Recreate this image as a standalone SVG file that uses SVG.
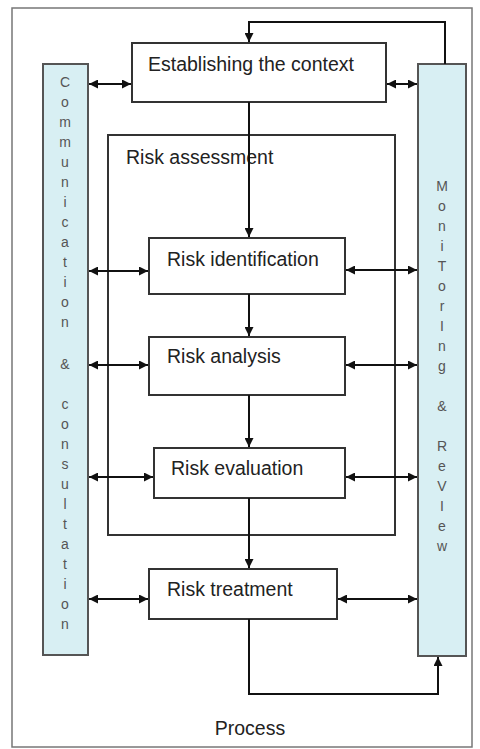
<svg xmlns="http://www.w3.org/2000/svg" width="480" height="749" viewBox="0 0 480 749">
<defs>
<marker id="ah" viewBox="0 0 10 10" refX="10" refY="5" markerWidth="11" markerHeight="9" markerUnits="userSpaceOnUse" orient="auto-start-reverse">
<path d="M0,0 L10,5 L0,10 Z" fill="#111"/>
</marker>
</defs>
<style>
.box{fill:#fff;stroke:#333;stroke-width:2}
.col{fill:#d8eff3;stroke:#555;stroke-width:2}
.lbl{font-family:"Liberation Sans",Arial,sans-serif;font-size:19.5px;fill:#222}
.ch{font-family:"Liberation Sans",Arial,sans-serif;font-size:14px;fill:#555;text-anchor:middle}
.c{fill:none;stroke:#111;stroke-width:2}
.d{fill:none;stroke:#111;stroke-width:2;marker-start:url(#ah);marker-end:url(#ah)}
.s{fill:none;stroke:#111;stroke-width:2;marker-end:url(#ah)}
</style>
<rect width="480" height="749" fill="#fff"/>
<rect x="12" y="8" width="460" height="739" fill="none" stroke="#777" stroke-width="1.5"/>

<g id="risk-assessment">
<rect x="108" y="135" width="287" height="400" fill="none" stroke="#333" stroke-width="2"/>
<text class="lbl" x="126" y="164">Risk assessment</text>
</g>

<g id="communication">
<rect class="col" x="43" y="64" width="45" height="591"/>
<text class="ch" x="65" y="87">C</text>
<text class="ch" x="65" y="107">o</text>
<text class="ch" x="65" y="127">m</text>
<text class="ch" x="65" y="147">m</text>
<text class="ch" x="65" y="167">u</text>
<text class="ch" x="65" y="187">n</text>
<text class="ch" x="65" y="207">i</text>
<text class="ch" x="65" y="227">c</text>
<text class="ch" x="65" y="247">a</text>
<text class="ch" x="65" y="267">t</text>
<text class="ch" x="65" y="287">i</text>
<text class="ch" x="65" y="307">o</text>
<text class="ch" x="65" y="327">n</text>
<text class="ch" x="65" y="369">&amp;</text>
<text class="ch" x="65" y="409">c</text>
<text class="ch" x="65" y="429">o</text>
<text class="ch" x="65" y="449">n</text>
<text class="ch" x="65" y="469">s</text>
<text class="ch" x="65" y="489">u</text>
<text class="ch" x="65" y="509">l</text>
<text class="ch" x="65" y="529">t</text>
<text class="ch" x="65" y="549">a</text>
<text class="ch" x="65" y="569">t</text>
<text class="ch" x="65" y="589">i</text>
<text class="ch" x="65" y="609">o</text>
<text class="ch" x="65" y="629">n</text>
</g>

<g id="monitoring">
<rect class="col" x="418" y="64" width="48" height="592"/>
<text class="ch" x="442" y="191">M</text>
<text class="ch" x="442" y="211">o</text>
<text class="ch" x="442" y="231">n</text>
<text class="ch" x="442" y="251">i</text>
<text class="ch" x="442" y="271">T</text>
<text class="ch" x="442" y="291">o</text>
<text class="ch" x="442" y="311">r</text>
<text class="ch" x="442" y="331">I</text>
<text class="ch" x="442" y="351">n</text>
<text class="ch" x="442" y="371">g</text>
<text class="ch" x="442" y="411">&amp;</text>
<text class="ch" x="442" y="451">R</text>
<text class="ch" x="442" y="471">e</text>
<text class="ch" x="442" y="491">V</text>
<text class="ch" x="442" y="511">I</text>
<text class="ch" x="442" y="531">e</text>
<text class="ch" x="442" y="551">w</text>
</g>

<g id="context">
<rect class="box" x="132" y="43" width="254" height="59"/>
<text class="lbl" x="148" y="71">Establishing the context</text>
</g>
<g id="identification">
<rect class="box" x="149" y="238" width="196" height="56"/>
<text class="lbl" x="167" y="266">Risk identification</text>
</g>
<g id="analysis">
<rect class="box" x="149" y="337" width="196" height="58"/>
<text class="lbl" x="167" y="363">Risk analysis</text>
</g>
<g id="evaluation">
<rect class="box" x="154" y="448" width="191" height="50"/>
<text class="lbl" x="171" y="475">Risk evaluation</text>
</g>
<g id="treatment">
<rect class="box" x="149" y="569" width="188" height="50"/>
<text class="lbl" x="167" y="596">Risk treatment</text>
</g>
<g id="process">
<text class="lbl" x="250" y="735" text-anchor="middle">Process</text>
</g>

<g id="connectors">
<path class="s" d="M249,102 V237"/>
<path class="s" d="M249,294 V336"/>
<path class="s" d="M249,395 V447"/>
<path class="s" d="M249,498 V568"/>
<path class="s" d="M445,64 V22 H249 V42"/>
<path class="s" d="M249,619 V694 H438 V657"/>
<path class="d" d="M89,84 H131"/>
<path class="d" d="M387,84 H417"/>
<path class="d" d="M89,271 H148"/>
<path class="d" d="M346,270 H417"/>
<path class="d" d="M89,365 H148"/>
<path class="d" d="M346,365 H417"/>
<path class="d" d="M89,477 H153"/>
<path class="d" d="M346,477 H417"/>
<path class="d" d="M89,599 H148"/>
<path class="d" d="M338,599 H417"/>
</g>
</svg>
